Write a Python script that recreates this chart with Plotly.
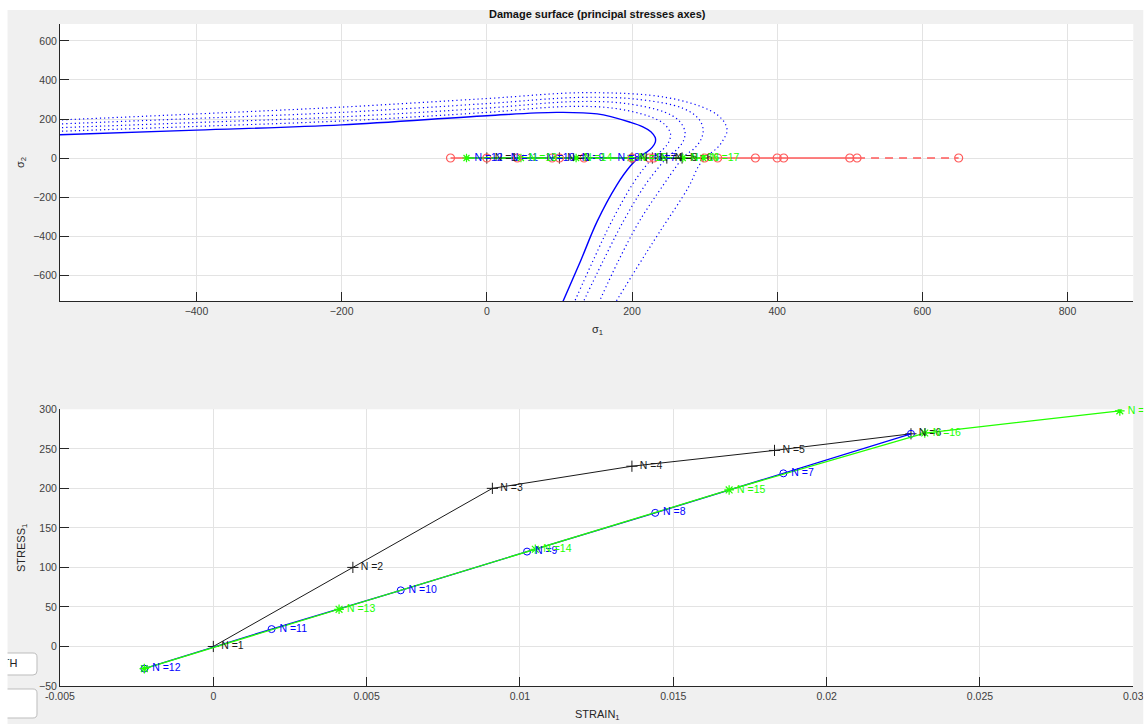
import plotly.graph_objects as go

W, H = 1145, 724

# ---------------- data: stress-strain path (bottom plot) ----------------
N_black = [1, 2, 3, 4, 5, 6]
strain_black = [0.0, 0.00455, 0.0091, 0.01365, 0.0183, 0.02275]
stress_black = [0, 100, 200, 228, 248, 269]

N_blue = [6, 7, 8, 9, 10, 11, 12]
strain_blue = [0.02275, 0.01859, 0.01441, 0.01023, 0.00611, 0.0019, -0.00225]
stress_blue = [269, 219, 169, 120, 71, 22, -28]

N_green = [12, 13, 14, 15, 16, 17]
strain_green = [-0.00225, 0.0041, 0.0105, 0.01682, 0.0232, 0.02956]
stress_green = [-28, 47, 123, 198, 270, 298]

# red circles on sigma2 = 0 (top plot), steps N=1..17
red_sigma1 = [0, 100, 200, 300, 400, 500, 409, 318, 224, 134, 42, -50, 90, 230, 370, 510, 650]

# ---------------- data: damage surfaces (top plot) ----------------
surf0_s1 = [-620, -400, -200, 0, 96, 152, 198, 215, 226, 232, 232, 228, 221, 211, 198, 179, 152, 129, 102]
surf0_s2 = [115, 143, 170, 217, 234, 226, 183, 160, 135, 105, 80, 56, 32, 8, -40, -139, -325, -529, -760]

surf1_s1 = [-620, -400, -200, 0, 110, 175, 225, 245, 253, 251, 243, 230, 218, 200, 172, 146, 118]
surf1_s2 = [133, 162, 190, 234, 264, 255, 212, 172, 125, 85, 45, 5, -45, -139, -325, -529, -760]

surf2_s1 = [-620, -400, -200, 0, 120, 190, 245, 265, 273, 271, 263, 250, 238, 218, 188, 160, 130]
surf2_s2 = [151, 182, 211, 256, 289, 280, 235, 190, 135, 90, 48, 8, -42, -139, -325, -529, -760]

surf3_s1 = [-620, -400, -200, 0, 130, 210, 270, 292, 298, 295, 286, 272, 262, 243, 210, 181, 152]
surf3_s2 = [170, 203, 234, 279, 311, 300, 255, 200, 145, 95, 50, 10, -38, -139, -325, -529, -760]

surf4_s1 = [-620, -400, -200, 0, 138, 248, 308, 326, 331, 326, 317, 303, 292, 278, 237, 208, 174]
surf4_s2 = [190, 226, 261, 305, 335, 310, 243, 190, 141, 95, 50, 10, -40, -148, -385, -555, -760]

# tick labels
top_xticks = [-400, -200, 0, 200, 400, 600, 800]
top_yticks = [-600, -400, -200, 0, 200, 400, 600]
bot_xticks = [-0.005, 0, 0.005, 0.01, 0.015, 0.02, 0.025, 0.03]
bot_xtext = ["-0.005", "0", "0.005", "0.01", "0.015", "0.02", "0.025", "0.03"]
bot_yticks = [-50, 0, 50, 100, 150, 200, 250, 300]

BLUE = "#0000ff"
GREEN = "#22ff00"
BLACK = "#1a1a1a"
RED = "#ff5a5a"
FONT = "Liberation Sans, Arial, Helvetica, sans-serif"
TXT = "#262626"
FS = 10.5

fig = go.Figure()

# ---------- top plot: damage surfaces ----------
fig.add_trace(go.Scatter(x=surf0_s1, y=surf0_s2, mode="lines",
                         line=dict(color=BLUE, width=1.4, shape="spline", smoothing=1.0),
                         xaxis="x", yaxis="y", hoverinfo="skip"))
for s1, s2 in [(surf1_s1, surf1_s2), (surf2_s1, surf2_s2), (surf3_s1, surf3_s2), (surf4_s1, surf4_s2)]:
    fig.add_trace(go.Scatter(x=s1, y=s2, mode="lines",
                             line=dict(color=BLUE, width=1.2, dash="1.2px,3px", shape="spline", smoothing=1.0),
                             xaxis="x", yaxis="y", hoverinfo="skip"))

zeros17 = [0] * len(red_sigma1)
# red path (solid up to N=16, dashed last step)
fig.add_trace(go.Scatter(x=red_sigma1[:16], y=zeros17[:16], mode="lines", line=dict(color=RED, width=1.3),
                         xaxis="x", yaxis="y", hoverinfo="skip"))
fig.add_trace(go.Scatter(x=red_sigma1[15:], y=zeros17[15:], mode="lines",
                         line=dict(color=RED, width=1.3, dash="8px,6px"),
                         xaxis="x", yaxis="y", hoverinfo="skip"))

# stress path on sigma2=0
fig.add_trace(go.Scatter(x=stress_black, y=[0] * len(stress_black), mode="lines+markers",
                         line=dict(color=BLACK, width=1),
                         marker=dict(symbol="cross-thin-open", size=8, color=BLACK, line=dict(color=BLACK, width=1)),
                         xaxis="x", yaxis="y", hoverinfo="skip"))
fig.add_trace(go.Scatter(x=stress_blue, y=[0] * len(stress_blue), mode="lines",
                         line=dict(color=BLUE, width=1),
                         xaxis="x", yaxis="y", hoverinfo="skip"))
fig.add_trace(go.Scatter(x=stress_green, y=[0] * len(stress_green), mode="lines+markers",
                         line=dict(color=GREEN, width=1.6),
                         marker=dict(symbol="asterisk-open", size=7, color=GREEN, line=dict(color=GREEN, width=1.2)),
                         xaxis="x", yaxis="y", hoverinfo="skip"))
fig.add_trace(go.Scatter(x=red_sigma1, y=zeros17, mode="markers",
                         marker=dict(symbol="circle-open", size=8, color=RED, line=dict(color=RED, width=1.2)),
                         xaxis="x", yaxis="y", hoverinfo="skip"))


def labels(xs, ys, ns, color, xa, ya):
    fig.add_trace(go.Scatter(x=xs, y=ys, mode="markers+text", text=["N =%d" % n for n in ns],
                             marker=dict(size=11, opacity=0),
                             textposition="middle right", textfont=dict(color=color, size=FS, family=FONT),
                             xaxis=xa, yaxis=ya, hoverinfo="skip", cliponaxis=False))


labels(stress_black, [0] * 6, N_black, BLACK, "x", "y")
labels(stress_blue[1:], [0] * 6, N_blue[1:], BLUE, "x", "y")
labels(stress_green[1:], [0] * 5, N_green[1:], GREEN, "x", "y")

# ---------- bottom plot: stress-strain ----------
fig.add_trace(go.Scatter(x=strain_black, y=stress_black, mode="lines+markers",
                         line=dict(color=BLACK, width=1),
                         marker=dict(symbol="cross-thin-open", size=8, color=BLACK, line=dict(color=BLACK, width=1)),
                         xaxis="x2", yaxis="y2", hoverinfo="skip"))
fig.add_trace(go.Scatter(x=strain_blue, y=stress_blue, mode="lines+markers",
                         line=dict(color=BLUE, width=1.3),
                         marker=dict(symbol="circle-open", size=7, color=BLUE, line=dict(color=BLUE, width=1)),
                         xaxis="x2", yaxis="y2", hoverinfo="skip"))
fig.add_trace(go.Scatter(x=strain_green, y=stress_green, mode="lines+markers",
                         line=dict(color=GREEN, width=1.3),
                         marker=dict(symbol="asterisk-open", size=8, color=GREEN, line=dict(color=GREEN, width=1.2)),
                         xaxis="x2", yaxis="y2", hoverinfo="skip"))
labels(strain_black, stress_black, N_black, BLACK, "x2", "y2")
labels(strain_blue[1:], stress_blue[1:], N_blue[1:], BLUE, "x2", "y2")
labels(strain_green[1:], stress_green[1:], N_green[1:], GREEN, "x2", "y2")

# button caption (clipped by the window edge like the original)
fig.add_trace(go.Scatter(x=[17.5], y=[0.5], mode="text", text=["PATH"], textposition="middle left",
                         textfont=dict(color="#222222", size=11, family=FONT),
                         xaxis="x3", yaxis="y3", hoverinfo="skip", cliponaxis=True))


# ---------- layout ----------
def fx(px):
    return px / W


def fy(py):
    return 1 - py / H


axis_common = dict(showgrid=True, gridcolor="#e3e3e3", gridwidth=1, zeroline=False, showline=True,
                   linecolor=TXT, linewidth=1, ticks="inside", ticklen=9, tickcolor=TXT,
                   tickfont=dict(size=FS, color="#404040", family=FONT), mirror=False)

fig.update_layout(
    width=W, height=H, margin=dict(l=0, r=0, t=0, b=0, pad=0, autoexpand=False),
    paper_bgcolor="#f0f0f0", plot_bgcolor="#ffffff", showlegend=False,
    xaxis=dict(domain=[fx(60), fx(1133.3)], range=[-588, 890.6], tickvals=top_xticks, anchor="y", **axis_common),
    yaxis=dict(domain=[fy(301), fy(24)], range=[-733, 687], tickvals=top_yticks, anchor="x", **axis_common),
    xaxis2=dict(domain=[fx(60), fx(1133.3)], range=[-0.005, 0.03], tickvals=bot_xticks, ticktext=bot_xtext,
                anchor="y2", **axis_common),
    yaxis2=dict(domain=[fy(686), fy(409.3)], range=[-50, 300], tickvals=bot_yticks, anchor="x2", **axis_common),
    xaxis3=dict(domain=[fx(7.5), fx(34)], range=[7.5, 34], visible=False, anchor="y3", fixedrange=True),
    yaxis3=dict(domain=[fy(672), fy(656)], range=[0, 1], visible=False, anchor="x3", fixedrange=True),
)


def rrect(x0, y0, x1, y1, r):
    p = []
    p.append("M %f,%f" % (fx(x0 + r), fy(y0)))
    p.append("L %f,%f" % (fx(x1 - r), fy(y0)))
    p.append("Q %f,%f %f,%f" % (fx(x1), fy(y0), fx(x1), fy(y0 + r)))
    p.append("L %f,%f" % (fx(x1), fy(y1 - r)))
    p.append("Q %f,%f %f,%f" % (fx(x1), fy(y1), fx(x1 - r), fy(y1)))
    p.append("L %f,%f" % (fx(x0 + r), fy(y1)))
    p.append("Q %f,%f %f,%f" % (fx(x0), fy(y1), fx(x0), fy(y1 - r)))
    p.append("L %f,%f" % (fx(x0), fy(y0 + r)))
    p.append("Q %f,%f %f,%f" % (fx(x0), fy(y0), fx(x0 + r), fy(y0)))
    return " ".join(p) + " Z"


shapes = [
    # buttons
    dict(type="path", xref="paper", yref="paper", path=rrect(-6, 653, 37, 675, 4), fillcolor="#ffffff",
         line=dict(color="#bdbdbd", width=1), layer="below"),
    dict(type="path", xref="paper", yref="paper", path=rrect(-6, 689, 37, 718, 4), fillcolor="#ffffff",
         line=dict(color="#bdbdbd", width=1), layer="below"),
    # white window strips around the grey figure
    dict(type="rect", xref="paper", yref="paper", x0=0, x1=1, y0=fy(10), y1=1, fillcolor="#ffffff",
         line=dict(width=0), layer="above"),
    dict(type="rect", xref="paper", yref="paper", x0=0, x1=fx(7.5), y0=0, y1=1, fillcolor="#ffffff",
         line=dict(width=0), layer="above"),
    dict(type="rect", xref="paper", yref="paper", x0=fx(1143.3), x1=1, y0=0, y1=1, fillcolor="#ffffff",
         line=dict(width=0), layer="above"),
]

annotations = [
    dict(text="<b>Damage surface (principal stresses axes)</b>", x=fx(597), y=fy(14), xref="paper", yref="paper",
         showarrow=False, font=dict(size=11, color="#111111", family=FONT), xanchor="center", yanchor="middle"),
    dict(text="σ<sub>1</sub>", x=fx(597), y=fy(330), xref="paper", yref="paper", showarrow=False,
         font=dict(size=11, color=TXT, family=FONT), xanchor="center", yanchor="middle"),
    dict(text="σ<sub>2</sub>", x=fx(21), y=fy(162), xref="paper", yref="paper", showarrow=False, textangle=-90,
         font=dict(size=11, color=TXT, family=FONT), xanchor="center", yanchor="middle"),
    dict(text="STRESS<sub>1</sub>", x=fx(22), y=fy(548), xref="paper", yref="paper", showarrow=False,
         textangle=-90, font=dict(size=11, color=TXT, family=FONT), xanchor="center", yanchor="middle"),
    dict(text="STRAIN<sub>1</sub>", x=fx(597), y=fy(715), xref="paper", yref="paper", showarrow=False,
         font=dict(size=11, color=TXT, family=FONT), xanchor="center", yanchor="middle"),
]

fig.update_layout(shapes=shapes, annotations=annotations)
fig.write_html("out.html")
